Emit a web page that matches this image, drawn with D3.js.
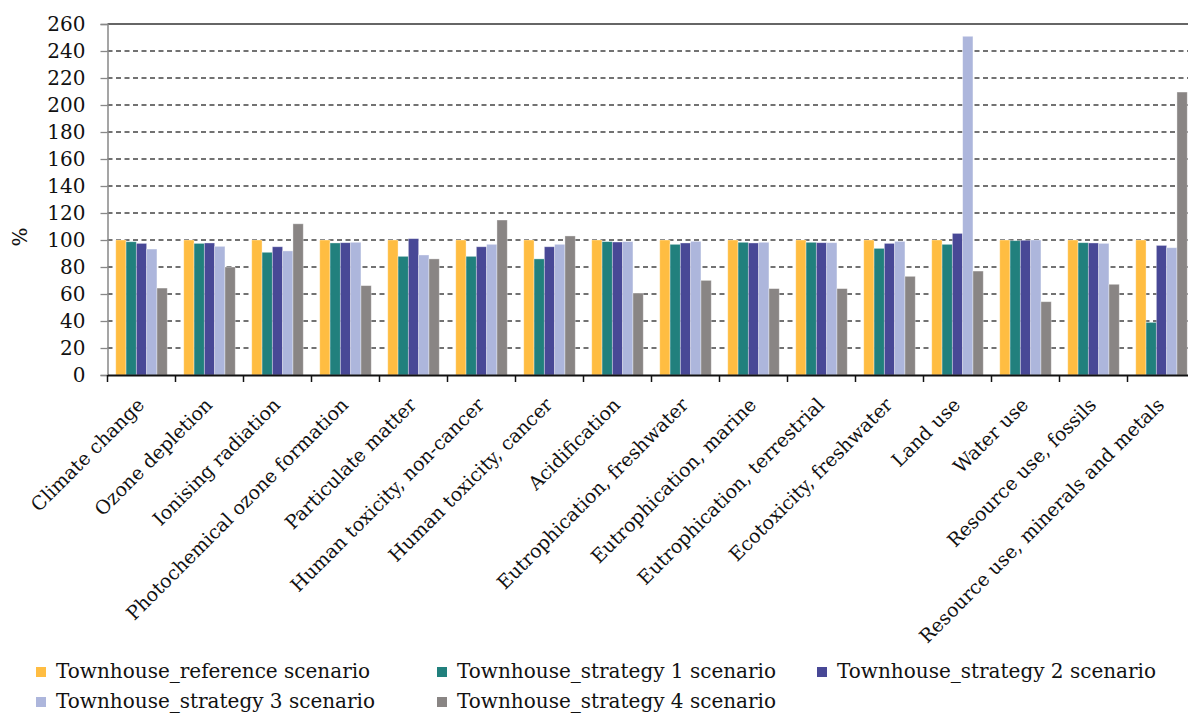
<!DOCTYPE html>
<html>
<head>
<meta charset="utf-8">
<script src="https://cdn.jsdelivr.net/npm/d3@7"></script>
<style>
    body { margin: 0; background: #fff; }
    svg { display: block; font-family: "DejaVu Serif", serif; }
</style>
</head>
<body>
<svg id="chart" width="1188" height="713"></svg>
<script>
const categories = [
    "Climate change", "Ozone depletion", "Ionising radiation", "Photochemical ozone formation",
    "Particulate matter", "Human toxicity, non-cancer", "Human toxicity, cancer", "Acidification",
    "Eutrophication, freshwater", "Eutrophication, marine", "Eutrophication, terrestrial",
    "Ecotoxicity, freshwater", "Land use", "Water use", "Resource use, fossils",
    "Resource use, minerals and metals"
];

const seriesNames = [
    "Townhouse_reference scenario", "Townhouse_strategy 1 scenario", "Townhouse_strategy 2 scenario",
    "Townhouse_strategy 3 scenario", "Townhouse_strategy 4 scenario"
];

const referenceValues = [100, 100, 100, 100, 100, 100, 100, 100, 100, 100, 100, 100, 100, 100, 100, 100];
const strategy1Values = [98.7, 97.5, 90.9, 97.8, 87.9, 87.9, 86, 98.8, 96.8, 98.3, 98.3, 93.8, 96.8, 99.5, 98, 39];
const strategy2Values = [97.5, 97.8, 95, 98, 101, 95, 95, 98.5, 97.8, 97.8, 98, 97.5, 104.9, 99.8, 97.8, 96];
const strategy3Values = [93.3, 95.3, 91.9, 98.3, 88.9, 96.8, 96.8, 98.8, 99, 98.3, 98, 99, 250.9, 100, 97.5, 94.3];
const strategy4Values = [64.4, 80, 112, 66.2, 86, 114.8, 103, 60.7, 70.1, 64, 64, 73.1, 77, 54.3, 67.2, 209.6];

const yTicks = [0, 20, 40, 60, 80, 100, 120, 140, 160, 180, 200, 220, 240, 260];
const colors = ["#ffbd42", "#21807d", "#484896", "#adb6dc", "#898584"];

const allValues = [referenceValues, strategy1Values, strategy2Values, strategy3Values, strategy4Values];

const margin = {left: 107.5, top: 24, bottom: 338, right: -7.5}; // plot runs a little past the right edge
const width = 1188;
const height = 713;

const svg = d3.select("#chart");

const x0 = d3.scaleBand()
    .domain(categories)
    .range([margin.left, width - margin.right])
    .padding(0);

const x1 = d3.scaleBand()
    .domain(seriesNames)
    .range([0, x0.bandwidth()])
    .paddingInner(0)
    .paddingOuter(0.8);

const y = d3.scaleLinear()
    .domain([0, 260])
    .range([height - margin.bottom, margin.top]);

// dashed gridlines
svg.append("g")
    .selectAll("line")
    .data(yTicks.filter(t => t > 0 && t < 260))
    .join("line")
    .attr("x1", margin.left)
    .attr("x2", width)
    .attr("y1", d => y(d))
    .attr("y2", d => y(d))
    .attr("stroke", "#444")
    .attr("stroke-width", 1.5)
    .attr("stroke-dasharray", "5,3.5");

// top border of plot
svg.append("line")
    .attr("x1", margin.left).attr("x2", width)
    .attr("y1", y(260)).attr("y2", y(260))
    .attr("stroke", "#333").attr("stroke-width", 1.5);

// bars
const rows = categories.map((c, i) => ({
    category: c,
    values: seriesNames.map((s, j) => ({series: s, value: allValues[j][i], color: colors[j]}))
}));

svg.append("g")
    .selectAll("g")
    .data(rows)
    .join("g")
    .attr("transform", d => `translate(${x0(d.category)},0)`)
    .selectAll("rect")
    .data(d => d.values)
    .join("rect")
    .attr("x", d => x1(d.series))
    .attr("width", x1.bandwidth())
    .attr("y", d => y(d.value))
    .attr("height", d => y(0) - y(d.value))
    .attr("fill", d => d.color)
    .attr("stroke", "rgba(255,255,255,0.45)")
    .attr("stroke-width", 0.8);

// y axis
const yAxis = svg.append("g")
    .attr("transform", `translate(${margin.left},0)`)
    .call(d3.axisLeft(y).tickValues(yTicks).tickSize(7).tickPadding(15).tickFormat(d3.format("d")));
yAxis.select(".domain").attr("stroke", "#888").attr("stroke-width", 1.5);
yAxis.selectAll(".tick line").attr("stroke", "#888").attr("stroke-width", 1.3);
yAxis.selectAll(".tick text")
    .attr("font-family", "DejaVu Serif")
    .attr("font-size", 20)
    .attr("fill", "#111");

// x axis
const xAxis = svg.append("g")
    .attr("transform", `translate(0,${y(0)})`)
    .call(d3.axisBottom(x0).tickSize(0).tickFormat(""));
xAxis.select(".domain").attr("stroke", "#111").attr("stroke-width", 2);

svg.append("g")
    .selectAll("line")
    .data(categories)
    .join("line")
    .attr("x1", d => x0(d))
    .attr("x2", d => x0(d))
    .attr("y1", y(0))
    .attr("y2", y(0) + 7)
    .attr("stroke", "#111")
    .attr("stroke-width", 1.5);

// rotated category labels
svg.append("g")
    .selectAll("text")
    .data(categories)
    .join("text")
    .attr("transform", d => `translate(${x0(d) + x0.bandwidth() / 2 + 4},${y(0) + 31}) rotate(-45)`)
    .attr("text-anchor", "end")
    .attr("font-size", 19)
    .attr("fill", "#111")
    .text(d => d);

// y title
svg.append("text")
    .attr("transform", `translate(27,${y(100) - 3}) rotate(-90)`)
    .attr("text-anchor", "middle")
    .attr("font-size", 20)
    .attr("fill", "#111")
    .text("%");

// legend
const legendPos = [[36, 678], [437, 678], [817, 678], [36, 708], [437, 708]];

const legend = svg.append("g")
    .selectAll("g")
    .data(seriesNames)
    .join("g")
    .attr("transform", (d, i) => `translate(${legendPos[i][0]},${legendPos[i][1]})`);

legend.append("rect")
    .attr("x", 0).attr("y", -11)
    .attr("width", 10).attr("height", 10)
    .attr("fill", (d, i) => colors[i]);

legend.append("text")
    .attr("x", 20)
    .attr("font-size", 20)
    .attr("fill", "#111")
    .text(d => d);
</script>
</body>
</html>
